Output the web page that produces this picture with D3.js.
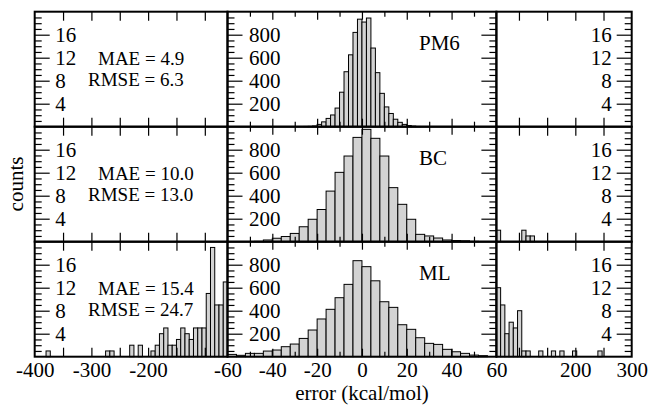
<!DOCTYPE html>
<html>
<head>
<meta charset="utf-8">
<script src="https://cdn.jsdelivr.net/npm/d3@7"></script>
<style>
  body { margin: 0; background: #fff; }
  text { font-family: "Liberation Serif", "Times New Roman", serif; fill: #000; }
</style>
</head>
<body>
<div id="vis"></div>
<script>
// Frame
const FRAME_WIDTH = 652;
const FRAME_HEIGHT = 407;
const ROW_TOP = 11.7;
const ROW_H = 115;

// Row labels and stats
const METHODS = ["PM6", "BC", "ML"];
const MAE = ["4.9", "10.0", "15.4"];
const RMSE = ["6.3", "13.0", "24.7"];

// Middle panels: first bin start, bin width, counts
const PM6_FIRST = -26, PM6_BIN = 2;
const PM6_COUNTS = [2, 3, 6, 20, 42, 72, 102, 162, 300, 478, 625, 820, 935,
                    910, 945, 684, 470, 290, 172, 115, 65, 38, 20, 10, 5, 2];
const BC_FIRST = -48, BC_BIN = 4;
const BC_COUNTS = [3, 15, 30, 45, 72, 130, 195, 280, 440, 603, 745, 907, 977,
                   899, 745, 470, 325, 195, 64, 50, 32, 15, 10, 8, 3];
const ML_FIRST = -60, ML_BIN = 4;
const ML_COUNTS = [20, 12, 29, 29, 49, 58, 87, 110, 159, 232, 328, 412, 513, 629,
                   835, 783, 660, 478, 429, 278, 238, 165, 116, 107, 64, 43, 29, 14, 9];

// Outer panels (tails): bin starts and counts, bin width 7.5
const TAIL_BIN = 7.5;
const ML_LEFT_STARTS = [-380, -275, -267.5, -232.5, -217.5, -195, -187.5, -180, -172.5,
                        -165, -157.5, -150, -142.5, -135, -127.5, -120, -112.5, -105,
                        -97.5, -90, -82.5, -75, -67.5];
const ML_LEFT_COUNTS = [1, 1, 1, 2, 2, 1, 2, 4, 5, 2, 2, 3, 5, 4, 3, 5, 5, 5, 11, 19, 9, 9, 13];
const ML_RIGHT_STARTS = [60, 67.5, 75, 82.5, 90, 97.5, 105, 112.5, 135, 157.5, 172.5, 195, 240];
const ML_RIGHT_COUNTS = [12, 9, 4, 6, 5, 8, 1, 1, 1, 1, 1, 1, 1];
const BC_RIGHT_STARTS = [60, 105, 112.5, 120];
const BC_RIGHT_COUNTS = [2, 2, 1, 1];

// Tick values
const LEFT_TICKS = [-350, -300, -250, -200, -150, -100];
const MID_MAJOR = [-40, -20, 0, 20, 40];
const MID_MINOR = [-50, -30, -10, 10, 30, 50];
const RIGHT_TICKS = [100, 150, 200, 250];
const COUNT_MAJOR = [4, 8, 12, 16];
const COUNT_MINOR = [1, 2, 3, 5, 6, 7, 9, 10, 11, 13, 14, 15, 17, 18, 19];
const MID_Y_MAJOR = [200, 400, 600, 800];
const MID_Y_MINOR = [50, 100, 150, 250, 300, 350, 450, 500, 550, 650, 700, 750, 850, 900, 950];
const LEFT_LABELS = [-400, -300, -200, -60];
const MID_LABELS = [-40, -20, 0, 20, 40];
const RIGHT_LABELS = [60, 200, 300];

// Scales
const X_LEFT = d3.scaleLinear().domain([-400, -60]).range([34.7, 227.5]);
const X_MID = d3.scaleLinear().domain([-60, 60]).range([227.5, 496.4]);
const X_RIGHT = d3.scaleLinear().domain([60, 300]).range([496.4, 631.7]);
const Y_COUNT = d3.scaleLinear().domain([0, 20]).range([ROW_H, 0]);
const Y_MID = d3.scaleLinear().domain([0, 1000]).range([ROW_H, 0]);

const FRAME = d3.select("#vis")
  .append("svg")
    .attr("width", FRAME_WIDTH)
    .attr("height", FRAME_HEIGHT);

// bar tables built from the arrays
const midBins = (first, w, counts) => counts.map((c, i) => ({x0: first + i * w, x1: first + (i + 1) * w, c}));
const tailBins = (starts, counts) => starts.map((s, i) => ({x0: s, x1: s + TAIL_BIN, c: counts[i]}));

const ROWS = [
  {left: [], mid: midBins(PM6_FIRST, PM6_BIN, PM6_COUNTS), right: []},
  {left: [], mid: midBins(BC_FIRST, BC_BIN, BC_COUNTS), right: tailBins(BC_RIGHT_STARTS, BC_RIGHT_COUNTS)},
  {left: tailBins(ML_LEFT_STARTS, ML_LEFT_COUNTS), mid: midBins(ML_FIRST, ML_BIN, ML_COUNTS),
   right: tailBins(ML_RIGHT_STARTS, ML_RIGHT_COUNTS)}
];

function drawBars(g, bins, x, y) {
  g.selectAll(null)
    .data(bins)
    .enter()
    .append("rect")
      .attr("x", d => x(d.x0))
      .attr("width", d => x(d.x1) - x(d.x0))
      .attr("y", d => y(d.c))
      .attr("height", d => ROW_H - y(d.c))
      .attr("fill", "#d3d3d3")
      .attr("stroke", "#000")
      .attr("stroke-width", 1);
}

// inward tick marks, no labels
function ticks(g, axis, values, size, tx, ty) {
  const a = g.append("g")
    .attr("transform", "translate(" + tx + "," + ty + ")")
    .call(axis.tickValues(values).tickSize(-size).tickFormat(""));
  a.select(".domain").remove();
  a.selectAll("line").attr("stroke-width", 1.2);
  return a;
}

ROWS.forEach((row, i) => {
  const g = FRAME.append("g").attr("transform", "translate(0," + (ROW_TOP + i * ROW_H) + ")");
  drawBars(g, row.left, X_LEFT, Y_COUNT);
  drawBars(g, row.mid, X_MID, Y_MID);
  drawBars(g, row.right, X_RIGHT, Y_COUNT);

  // x ticks top and bottom
  [[X_LEFT, LEFT_TICKS, 9], [X_MID, MID_MAJOR, 8], [X_MID, MID_MINOR, 5], [X_RIGHT, RIGHT_TICKS, 9]]
    .forEach(([x, vals, len]) => {
      ticks(g, d3.axisTop(x), vals, len, 0, 0);
      ticks(g, d3.axisBottom(x), vals, len, 0, ROW_H);
    });

  // y ticks: left panel left side, middle both sides, right panel right side
  ticks(g, d3.axisLeft(Y_COUNT), COUNT_MINOR, 7, X_LEFT(-400), 0);
  ticks(g, d3.axisLeft(Y_MID), MID_Y_MINOR, 7, X_MID(-60), 0);
  ticks(g, d3.axisRight(Y_MID), MID_Y_MINOR, 7, X_MID(60), 0);
  ticks(g, d3.axisRight(Y_MID), MID_Y_MAJOR, 15, X_MID(60), 0);
  ticks(g, d3.axisRight(Y_COUNT), COUNT_MINOR, 7, X_RIGHT(300), 0);

  // labelled major y ticks
  const yl = g.append("g")
    .attr("transform", "translate(" + X_LEFT(-400) + ",0)")
    .call(d3.axisLeft(Y_COUNT).tickValues(COUNT_MAJOR).tickSize(-15).tickPadding(-20.5));
  const ym = g.append("g")
    .attr("transform", "translate(" + X_MID(-60) + ",0)")
    .call(d3.axisLeft(Y_MID).tickValues(MID_Y_MAJOR).tickSize(-15).tickPadding(-21.5));
  const yr = g.append("g")
    .attr("transform", "translate(" + X_RIGHT(300) + ",0)")
    .call(d3.axisRight(Y_COUNT).tickValues(COUNT_MAJOR).tickSize(-15).tickPadding(-20));
  [yl, ym, yr].forEach(a => {
    a.select(".domain").remove();
    a.selectAll("line").attr("stroke-width", 1.2);
    a.selectAll("text").attr("font-size", "21px").attr("font-family", null);
  });
  yl.selectAll("text").attr("text-anchor", "start");
  ym.selectAll("text").attr("text-anchor", "start");
  yr.selectAll("text").attr("text-anchor", "end");

  // panel frames
  [[X_LEFT, -400, -60], [X_MID, -60, 60], [X_RIGHT, 60, 300]].forEach(([x, a, b]) => {
    g.append("rect")
      .attr("x", x(a)).attr("y", 0)
      .attr("width", x(b) - x(a)).attr("height", ROW_H)
      .attr("fill", "none").attr("stroke", "#000").attr("stroke-width", 2);
  });

  // annotations
  g.append("text").attr("x", 98).attr("y", 53).attr("font-size", "19px")
    .text("MAE = " + MAE[i]);
  g.append("text").attr("x", 88).attr("y", 74).attr("font-size", "19px")
    .text("RMSE = " + RMSE[i]);
  g.append("text").attr("x", 419).attr("y", 38.5).attr("font-size", "21px")
    .text(METHODS[i]);
});

// x tick labels under the bottom row
const BOTTOM = ROW_TOP + 3 * ROW_H;
[[X_LEFT, LEFT_LABELS], [X_MID, MID_LABELS], [X_RIGHT, RIGHT_LABELS]].forEach(([x, vals]) => {
  const a = FRAME.append("g")
    .attr("transform", "translate(0," + BOTTOM + ")")
    .call(d3.axisBottom(x).tickValues(vals).tickSize(0).tickPadding(5).tickFormat(d3.format("d")));
  a.select(".domain").remove();
  a.selectAll("text").attr("font-size", "21px").attr("font-family", null)
    .text(d => String(d));
});

// axis titles
FRAME.append("text")
  .attr("x", 362).attr("y", 400)
  .attr("text-anchor", "middle")
  .attr("font-size", "21px")
  .text("error (kcal/mol)");

FRAME.append("text")
  .attr("transform", "translate(23,184) rotate(-90)")
  .attr("text-anchor", "middle")
  .attr("font-size", "21px")
  .text("counts");
</script>
</body>
</html>
